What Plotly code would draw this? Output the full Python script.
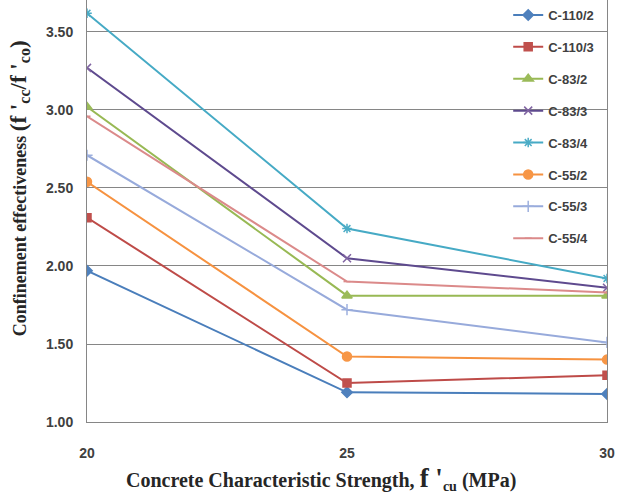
import plotly.graph_objects as go

x_vals = [20, 25, 30]
names = ["C-110/2", "C-110/3", "C-83/2", "C-83/3", "C-83/4", "C-55/2", "C-55/3", "C-55/4"]
c110_2 = [1.97, 1.19, 1.18]
c110_3 = [2.31, 1.25, 1.30]
c83_2 = [3.02, 1.81, 1.81]
c83_3 = [3.27, 2.05, 1.86]
c83_4 = [3.62, 2.24, 1.92]
c55_2 = [2.54, 1.42, 1.40]
c55_3 = [2.71, 1.72, 1.51]
c55_4 = [2.96, 1.90, 1.83]
series = [c110_2, c110_3, c83_2, c83_3, c83_4, c55_2, c55_3, c55_4]

line_colors = ["#4A7EBB", "#BE4B48", "#98B954", "#5E4A8E", "#46AAC5", "#F69240", "#97AADB", "#DB8A8A"]
marker_colors = ["#4F81BD", "#C0504D", "#9BBB59", "#8064A2", "#4BACC6", "#F79646", "#9DB0DE", "#DB8A8A"]
symbols = ["diamond", "square", "triangle-up", "x-thin-open", "asterisk-open", "circle", "cross-thin-open", "line-ew-open"]
sizes = [8, 8, 9, 8, 8, 9, 8, 5]

fig = go.Figure()
for i, (n, ys) in enumerate(zip(names, series)):
    fig.add_trace(go.Scatter(
        x=x_vals, y=ys, name=n, mode="lines+markers",
        legendgroup=n,
        line=dict(color=line_colors[i], width=2),
        marker=dict(symbol=symbols[i], size=sizes[i], color=marker_colors[i],
                    line=dict(color=marker_colors[i], width=1.5)),
    ))

tick_font = dict(family="Liberation Sans, Arial, sans-serif", size=14, color="#404040")

fig.update_layout(
    width=621, height=494,
    margin=dict(l=87, r=14, t=0, b=72),
    paper_bgcolor="white", plot_bgcolor="white",
    showlegend=True,
    legend=dict(
        x=0.81, y=1.0, xanchor="left", yanchor="top",
        bgcolor="rgba(0,0,0,0)",
        font=dict(family="Liberation Sans, Arial, sans-serif", size=13, color="#404040", weight="bold"),
        traceorder="grouped", tracegroupgap=12,
        itemwidth=30,
    ),
    xaxis=dict(
        range=[20, 30], tickvals=[20, 25, 30], ticktext=["<b>20</b>", "<b>25</b>", "<b>30</b>"],
        showgrid=False, zeroline=False,
        showline=True, linecolor="#868686", linewidth=1,
        ticks="", ticklabelstandoff=18, tickfont=tick_font,
    ),
    yaxis=dict(
        range=[1.0, 3.705], tickvals=[1.0, 1.5, 2.0, 2.5, 3.0, 3.5],
        ticktext=["<b>1.00</b>", "<b>1.50</b>", "<b>2.00</b>", "<b>2.50</b>", "<b>3.00</b>", "<b>3.50</b>"],
        showgrid=True, gridcolor="#868686", gridwidth=1, zeroline=False,
        showline=True, linecolor="#868686", linewidth=1, mirror=True,
        ticks="", ticklabelstandoff=10, tickfont=tick_font,
    ),
)

fig.add_annotation(
    xref="paper", yref="paper", x=-0.13, y=0.555, xanchor="center", yanchor="middle",
    textangle=-90, showarrow=False,
    text="<b>Confinement effectiveness <span style='font-size:23px'>(f '<sub>cc</sub>/f '<sub>co</sub>)</span></b>",
    font=dict(family="Liberation Serif, Times New Roman, serif", size=18, color="#262626"),
)
fig.add_annotation(
    xref="paper", yref="paper", x=0.45, y=-0.135, xanchor="center", yanchor="middle",
    showarrow=False,
    text="<b>Concrete Characteristic Strength, <span style='font-size:27px'>f '</span><sub>cu</sub> (MPa)</b>",
    font=dict(family="Liberation Serif, Times New Roman, serif", size=20, color="#262626"),
)

fig.write_html("out.html")
